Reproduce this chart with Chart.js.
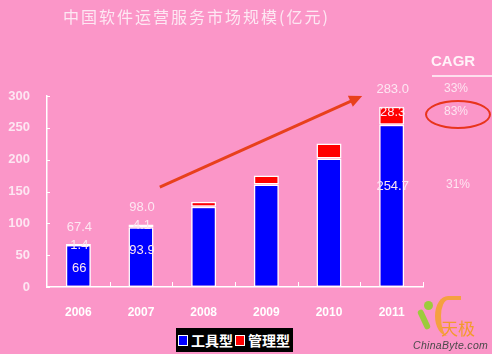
<!DOCTYPE html>
<html lang="zh">
<head>
    <meta charset="UTF-8">
    <title>中国软件运营服务市场规模</title>
    <script src="https://cdn.jsdelivr.net/npm/chart.js"></script>
    <style>
        html, body { margin: 0; padding: 0; }
        body { width: 492px; height: 354px; background: #fb96c8; position: relative; overflow: hidden;
               font-family: "Liberation Sans", Arial, sans-serif; }
        #wrap { position: absolute; left: 0; top: 0; width: 492px; height: 354px; }
        .abs { position: absolute; white-space: nowrap; }
        #title { left: 63px; top: 4px; font: 16px "Noto Sans CJK SC", sans-serif; letter-spacing: 2px; color: #fde8f3; }
        #cagrHead { left: 431px; top: 52px; font: bold 15px "Liberation Sans", Arial, sans-serif; color: #fff3f9; }
        #cagrLine { left: 432px; top: 75px; width: 60px; height: 2px; background: #fde0ee; }
        .cagr { font: 12px "Liberation Sans", Arial, sans-serif; color: #fde4f1; width: 50px; text-align: center; }
        #ellipse { left: 425px; top: 100px; width: 62px; height: 25px; border: 2px solid #e8341c; border-radius: 50%; }
        #legend { left: 176px; top: 328px; width: 117px; height: 24px; background: #000; color: #fff;
                  font: bold 14px "Noto Sans CJK SC", sans-serif; display: flex; align-items: center; }
        .sw { display: inline-block; width: 8px; height: 9px; border: 1px solid #fff; margin: 0 3px 0 2px; }
        #logo1 { left: 441px; top: 318px; font: 17px "Noto Sans CJK SC", sans-serif; color: #f39a2c; line-height: 20px; }
        #logo2 { left: 413px; top: 339px; font: italic 10.5px "Liberation Sans", Arial, sans-serif; color: #4a4a4a; letter-spacing: 0.3px; }
        #arc { left: 435px; top: 296px; width: 26px; height: 40px; border-left: 6px solid #f5a040; border-top: 4px solid #f5a040;
               border-radius: 60% 0 0 60%; box-sizing: border-box; }
        #head { left: 424px; top: 301px; width: 9px; height: 9px; border-radius: 50%; background: #9ccb3b; }
        #leaf { left: 421px; top: 309px; width: 6px; height: 21px; background: #9ccb3b; transform: rotate(-25deg); border-radius: 3px; }
    </style>
</head>
<body>
    <div id="wrap"><canvas id="chart" width="492" height="354"></canvas></div>
    <div id="title" class="abs">中国软件运营服务市场规模(亿元)</div>
    <div id="cagrHead" class="abs">CAGR</div>
    <div id="cagrLine" class="abs"></div>
    <div id="ellipse" class="abs"></div>
    <div id="legend" class="abs"></div>
    <div id="arc" class="abs"></div>
    <div id="head" class="abs"></div>
    <div id="leaf" class="abs"></div>
    <div id="logo1" class="abs">天极</div>
    <div id="logo2" class="abs">ChinaByte.com</div>

    <script>
        // data
        const years = ['2006', '2007', '2008', '2009', '2010', '2011'];
        const toolType = [66, 93.9, 126, 161, 202, 254.7];
        const mgmtType = [1.4, 4.1, 8, 14, 23.5, 28.3];
        const totals = ['67.4', '98.0', null, null, null, '283.0'];
        const toolLabels = ['66', '93.9', null, null, null, '254.7'];
        const mgmtLabels = ['1.4', '4.1', null, null, null, '28.3'];
        const yTicks = [0, 50, 100, 150, 200, 250, 300];
        const cagrValues = ['33%', '83%', '31%'];
        const seriesNames = ['工具型', '管理型'];
        const seriesColors = ['#0000ff', '#ff0000'];

        const textColor = '#fde6f2';
        const sans = '"Liberation Sans", Arial, sans-serif';

        // CAGR column
        const cagrTops = [81, 104, 177];
        const cagrLefts = [431, 431, 433];
        cagrValues.forEach((v, i) => {
            const d = document.createElement('div');
            d.className = 'abs cagr';
            d.style.left = cagrLefts[i] + 'px';
            d.style.top = cagrTops[i] + 'px';
            d.textContent = v;
            document.body.appendChild(d);
        });

        // legend
        const legend = document.getElementById('legend');
        seriesNames.forEach((name, i) => {
            const sw = document.createElement('span');
            sw.className = 'sw';
            sw.style.background = seriesColors[i];
            legend.appendChild(sw);
            const t = document.createElement('span');
            t.textContent = name;
            legend.appendChild(t);
        });

        // value labels, axis ticks and arrow
        const overlay = {
            id: 'overlay',
            afterDatasetsDraw(chart) {
                const ctx = chart.ctx;
                const x = chart.scales.x, y = chart.scales.y;
                ctx.save();
                ctx.strokeStyle = '#ffffff';
                ctx.lineWidth = 1;
                // upward category ticks on x axis
                const step = (x.right - x.left) / years.length;
                for (let i = 1; i <= years.length; i++) {
                    const px = Math.round(x.left + i * step) + 0.5;
                    ctx.beginPath();
                    ctx.moveTo(px, y.bottom);
                    ctx.lineTo(px, y.bottom - 5);
                    ctx.stroke();
                }
                // inner ticks on y axis
                yTicks.forEach(v => {
                    const py = Math.round(y.getPixelForValue(v)) + 0.5;
                    ctx.beginPath();
                    ctx.moveTo(x.left, py);
                    ctx.lineTo(x.left + 3, py);
                    ctx.stroke();
                });

                // labels
                ctx.fillStyle = textColor;
                ctx.textAlign = 'center';
                ctx.textBaseline = 'middle';
                ctx.font = '13px ' + sans;
                const toolOffset = [23, 23, 0, 0, 0, 62];
                years.forEach((_, i) => {
                    const cx = x.getPixelForValue(i) + 1;
                    const top = y.getPixelForValue(toolType[i] + mgmtType[i]);
                    const blueTop = y.getPixelForValue(toolType[i]);
                    if (totals[i]) ctx.fillText(totals[i], cx, top - 17);
                    if (mgmtLabels[i]) {
                        const my = i === 5 ? (top + blueTop) / 2 - 3 : top + 1;
                        ctx.fillText(mgmtLabels[i], cx, my);
                    }
                    if (toolLabels[i]) ctx.fillText(toolLabels[i], cx, blueTop + toolOffset[i]);
                });

                // red trend arrow
                const x0 = x.getPixelForValue(1.3), y0 = y.getPixelForValue(157);
                const x1 = x.getPixelForValue(4.53), y1 = y.getPixelForValue(300);
                const ang = Math.atan2(y1 - y0, x1 - x0);
                ctx.strokeStyle = '#e8401c';
                ctx.fillStyle = '#e8401c';
                ctx.lineWidth = 3;
                ctx.beginPath();
                ctx.moveTo(x0, y0);
                ctx.lineTo(x1 - 8 * Math.cos(ang), y1 - 8 * Math.sin(ang));
                ctx.stroke();
                ctx.beginPath();
                ctx.moveTo(x1, y1);
                ctx.lineTo(x1 - 13 * Math.cos(ang) + 6 * Math.sin(ang), y1 - 13 * Math.sin(ang) - 6 * Math.cos(ang));
                ctx.lineTo(x1 - 13 * Math.cos(ang) - 6 * Math.sin(ang), y1 - 13 * Math.sin(ang) + 6 * Math.cos(ang));
                ctx.closePath();
                ctx.fill();
                ctx.restore();
            }
        };

        new Chart(document.getElementById('chart'), {
            type: 'bar',
            data: {
                labels: years,
                datasets: [
                    { label: seriesNames[0], data: toolType, backgroundColor: seriesColors[0] },
                    { label: seriesNames[1], data: mgmtType, backgroundColor: seriesColors[1] }
                ]
            },
            options: {
                responsive: false,
                animation: false,
                layout: { padding: { left: 0, right: 69, top: 96, bottom: 0 } },
                datasets: {
                    bar: {
                        categoryPercentage: 1,
                        barPercentage: 0.4,
                        borderColor: '#ffffff',
                        borderWidth: 1.5,
                        borderSkipped: false
                    }
                },
                plugins: { legend: { display: false }, tooltip: { enabled: false } },
                scales: {
                    x: {
                        stacked: true,
                        grid: { display: false },
                        border: { display: true, color: '#ffffff', width: 1.5 },
                        ticks: { color: '#ffffff', font: { size: 12, weight: 'bold', family: sans }, padding: 10 },
                        afterFit(s) { s.height = 67; }
                    },
                    y: {
                        stacked: true,
                        min: 0,
                        max: 300,
                        afterBuildTicks(s) { s.ticks = yTicks.map(v => ({ value: v })); },
                        grid: { display: false },
                        border: { display: true, color: '#ffffff', width: 1.5 },
                        ticks: { color: textColor, font: { size: 13, weight: 'bold', family: sans }, padding: 9 },
                        afterFit(s) { s.width = 47; }
                    }
                }
            },
            plugins: [overlay]
        });
    </script>
</body>
</html>
